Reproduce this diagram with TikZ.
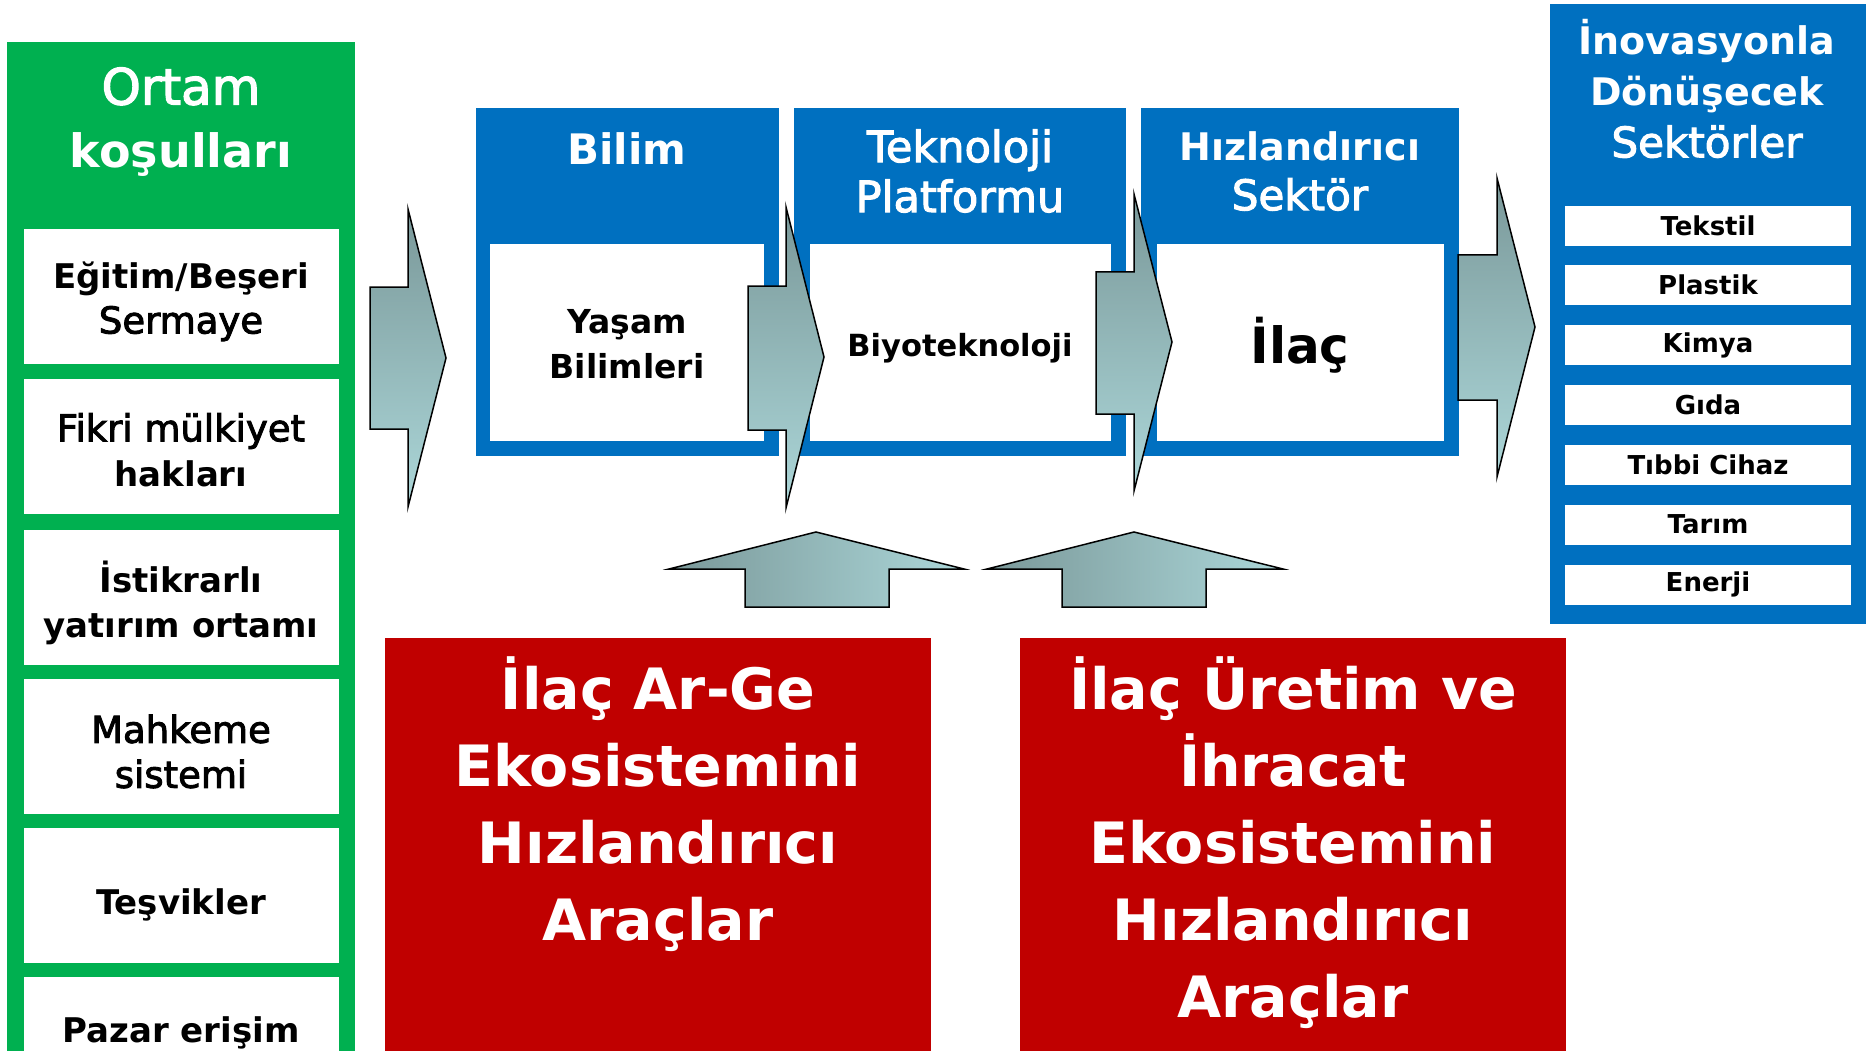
\documentclass[tikz,border=0pt]{standalone}
\usepackage{fontspec}
\setmainfont{DejaVu Sans}
\newfontfamily\medf{DejaVu Sans}[FakeBold=2.5]
\definecolor{grn}{RGB}{0,176,80}
\definecolor{blu}{RGB}{0,112,192}
\definecolor{rd}{RGB}{192,0,0}
\definecolor{adark}{RGB}{122,152,153}
\definecolor{alight}{RGB}{172,215,217}
\newcommand\myfs[2]{\fontsize{#1}{#2}\selectfont}
\newcommand\bd{\normalfont\bfseries}
\newcommand\md{\normalfont\mdseries\medf}
\tikzset{
  box/.style={anchor=north west, inner sep=0pt, outer sep=0pt, draw=none},
  greenpanel/.style={box, fill=grn},
  bluepanel/.style={box, fill=blu},
  redpanel/.style={box, fill=rd},
  whitebox/.style={box, fill=white},
  leftbox/.style={whitebox, minimum width=315pt, minimum height=135pt},
  sectorbox/.style={whitebox, minimum width=286pt, minimum height=40pt, font=\myfs{26}{30}\bfseries},
  wtext/.style={text=white, align=center, inner sep=0pt},
  btext/.style={text=black, align=center, inner sep=0pt},
  ltext/.style={btext, font=\myfs{37}{45}},
  rightarrow/.style={draw=black, line width=1.5pt, line join=miter, top color=adark, bottom color=alight},
  uparrow/.style={draw=black, line width=1.5pt, line join=miter, left color=adark, right color=alight},
}
\begin{document}
\begin{tikzpicture}[x=1pt,y=-1pt]
\useasboundingbox (0,0) rectangle (1872,1051);
\clip (0,0) rectangle (1872,1051);

% ---------- left green panel ----------
\node[greenpanel, minimum width=348pt, minimum height=1020pt] (green) at (7,42) {};
\node[wtext, font=\myfs{50}{63}] (gtitle) at (181,122) {\md Ortam\\\myfs{46}{63}\bd koşulları};
\node[leftbox] (c1) at (24,229) {};
\node[leftbox] (c2) at (24,379) {};
\node[leftbox] (c3) at (24,530) {};
\node[leftbox] (c4) at (24,679) {};
\node[leftbox] (c5) at (24,828) {};
\node[leftbox] (c6) at (24,977) {};
\node[ltext] (c1t) at (181,301.5) {\myfs{34}{45}\bd Eğitim/Beşeri\\\myfs{37}{45}\md Sermaye};
\node[ltext] (c2t) at (181,450) {\md Fikri mülkiyet\\\myfs{34}{45}\bd hakları};
\node[ltext] (c3t) at (181,602.5) {\myfs{34}{45}\bd İstikrarlı\\\myfs{34}{45}\bd yatırım ortamı};
\node[ltext] (c4t) at (181,751.5) {\md Mahkeme\\\md sistemi};
\node[ltext] (c5t) at (181,905) {\myfs{34}{45}\bd Teşvikler};
\node[ltext] (c6t) at (181,1033) {\myfs{34}{45}\bd Pazar erişim};

% ---------- blue stage boxes ----------
\node[bluepanel, minimum width=303pt, minimum height=348pt] (bilim) at (476,108) {};
\node[whitebox, minimum width=274pt, minimum height=197pt] (bilimin) at (490,244) {};
\node[bluepanel, minimum width=332pt, minimum height=348pt] (tekno) at (794,108) {};
\node[whitebox, minimum width=301pt, minimum height=197pt] (teknoin) at (810,244) {};
\node[bluepanel, minimum width=318pt, minimum height=348pt] (hiz) at (1141,108) {};
\node[whitebox, minimum width=287pt, minimum height=197pt] (hizin) at (1157,244) {};

\node[wtext, font=\myfs{42}{50}\bfseries] (bilimt) at (627,149) {Bilim};
\node[wtext, font=\myfs{43}{50}] (teknot) at (960,171) {\md Teknoloji\\\md Platformu};
\node[wtext, font=\myfs{42}{50}] (hizt) at (1300,171) {\myfs{38}{50}\bd Hızlandırıcı\\\myfs{42}{50}\md Sektör};

\node[btext, font=\myfs{33}{45}\bfseries] (yasam) at (627,344) {Yaşam\\Bilimleri};
\node[btext, font=\myfs{30.5}{40}\bfseries] (biyo) at (960,348) {Biyoteknoloji};
\node[btext, font=\myfs{50}{60}\bfseries] (ilac) at (1300,345) {İlaç};

% ---------- right blue panel ----------
\node[bluepanel, minimum width=316pt, minimum height=620pt] (sect) at (1550,4) {};
\node[wtext, font=\myfs{38}{51.5}\bfseries] (sectt) at (1707,88.5) {İnovasyonla\\Dönüşecek\\\myfs{42}{51.5}\md Sektörler};
\node[sectorbox] (s1) at (1565,206) {Tekstil};
\node[sectorbox] (s2) at (1565,265) {Plastik};
\node[sectorbox] (s3) at (1565,325) {Kimya};
\node[sectorbox] (s4) at (1565,385) {Gıda};
\node[sectorbox] (s5) at (1565,445) {Tıbbi Cihaz};
\node[sectorbox] (s6) at (1565,504.5) {Tarım};
\node[sectorbox] (s7) at (1565,564.5) {Enerji};

% ---------- red boxes ----------
\node[redpanel, minimum width=546pt, minimum height=450pt] (red1) at (385,638) {};
\node[redpanel, minimum width=546pt, minimum height=450pt] (red2) at (1020,638) {};
\node[wtext, font=\myfs{57}{77}\bfseries] (red1t) at (658,804) {İlaç Ar-Ge\\Ekosistemini\\Hızlandırıcı\\Araçlar};
\node[wtext, font=\myfs{57}{77}\bfseries] (red2t) at (1293,842.5) {İlaç Üretim ve\\İhracat\\Ekosistemini\\Hızlandırıcı\\Araçlar};

% ---------- right-pointing arrows ----------
\draw[rightarrow] (370,287) -- (408,287) -- (408,209) -- (446,358) -- (408,507) -- (408,429) -- (370,429) -- cycle;
\draw[rightarrow] (748,286) -- (786,286) -- (786,207) -- (824,357) -- (786,508) -- (786,430) -- (748,430) -- cycle;
\draw[rightarrow] (1096,272) -- (1134,272) -- (1134,194) -- (1172,342) -- (1134,491) -- (1134,414) -- (1096,414) -- cycle;
\draw[rightarrow] (1458,255) -- (1497,255) -- (1497,178) -- (1535,327) -- (1497,477) -- (1497,400) -- (1458,400) -- cycle;

% ---------- upward arrows ----------
\draw[uparrow] (745,607) -- (745,569) -- (669,569) -- (816,532) -- (964,569) -- (889,569) -- (889,607) -- cycle;
\draw[uparrow] (1062,607) -- (1062,569) -- (987,569) -- (1134,532) -- (1283,569) -- (1206,569) -- (1206,607) -- cycle;
\end{tikzpicture}
\end{document}
